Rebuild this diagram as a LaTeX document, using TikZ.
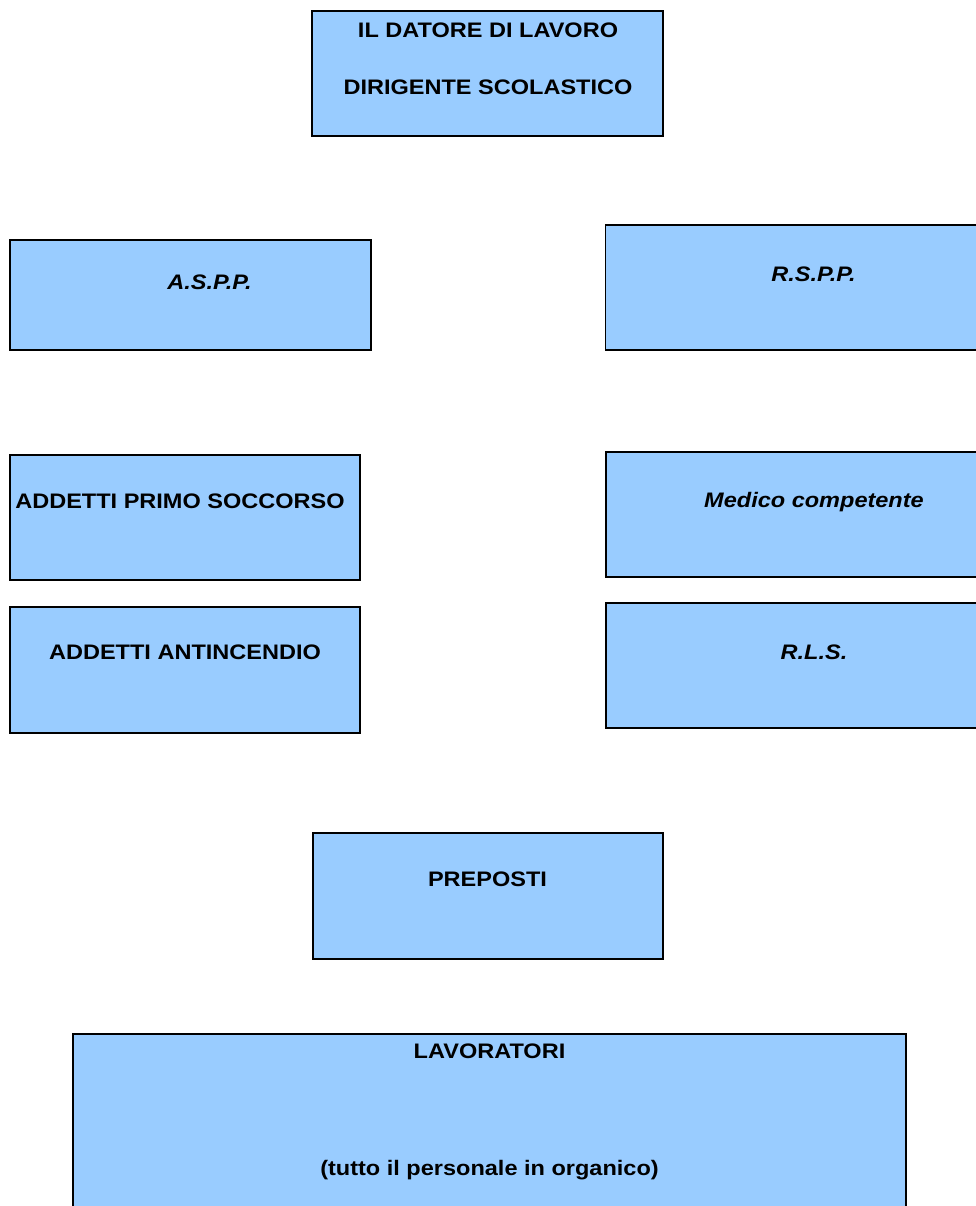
\documentclass[tikz,border=0pt]{standalone}
\usepackage{fontspec}
\setmainfont[FakeStretch=1.12]{Liberation Sans}
\usepackage{tikz}
\usepackage{xcolor}
\usetikzlibrary{positioning}

\definecolor{boxblue}{HTML}{99CCFF}

\tikzset{
    orgbox/.style={draw=black, line width=1.5pt, fill=boxblue, inner sep=0pt},
    lbl/.style={anchor=base, inner sep=0pt, font=\fontsize{21}{25}\selectfont\bfseries},
    ilbl/.style={lbl, font=\fontsize{21}{25}\selectfont\bfseries\itshape}
}

\begin{document}
\begin{tikzpicture}[x=1pt, y=-1pt]
    \useasboundingbox (0,0) rectangle (976,1206);
    \clip (0,0) rectangle (976,1206);
    \fill[white] (0,0) rectangle (976,1206);

    % Top
    \node[orgbox, minimum width=351pt, minimum height=125pt] (datore) at (487.5,73.5) {};
    \node[lbl] (datoreA) at (488,37.5) {IL DATORE DI LAVORO};
    \node[lbl] (datoreB) at (488,95) {DIRIGENTE SCOLASTICO};

    % Left column
    \node[orgbox, minimum width=361pt, minimum height=110pt] (aspp) at (190.5,295) {};
    \node[ilbl] (asppT) at (209.5,289) {A.S.P.P.};

    \node[orgbox, minimum width=350pt, minimum height=125pt] (soccorso) at (185,517.5) {};
    \node[lbl] (soccorsoT) at (180,508) {ADDETTI PRIMO SOCCORSO};

    \node[orgbox, minimum width=350pt, minimum height=126pt] (incendio) at (185,670) {};
    \node[lbl] (incendioT) at (185,659.5) {ADDETTI ANTINCENDIO};

    % Right column
    \node[orgbox, minimum width=400pt, minimum height=125pt] (rspp) at (805.5,287.5) {};
    \node[ilbl] (rsppT) at (813.5,281.5) {R.S.P.P.};

    \node[orgbox, minimum width=400pt, minimum height=125pt] (medico) at (806,514.5) {};
    \node[ilbl] (medicoT) at (814,507.5) {Medico competente};

    \node[orgbox, minimum width=400pt, minimum height=125pt] (rls) at (806,665.5) {};
    \node[ilbl] (rlsT) at (814,659) {R.L.S.};

    % Bottom
    \node[orgbox, minimum width=350pt, minimum height=126pt] (preposti) at (488,896) {};
    \node[lbl] (prepostiT) at (487.5,886.5) {PREPOSTI};

    \node[orgbox, minimum width=833pt, minimum height=200pt] (lavoratori) at (489.5,1134) {};
    \node[lbl] (lavoratoriA) at (489.5,1058.5) {LAVORATORI};
    \node[lbl] (lavoratoriB) at (489.5,1175.5) {(tutto il personale in organico)};
\end{tikzpicture}
\end{document}
